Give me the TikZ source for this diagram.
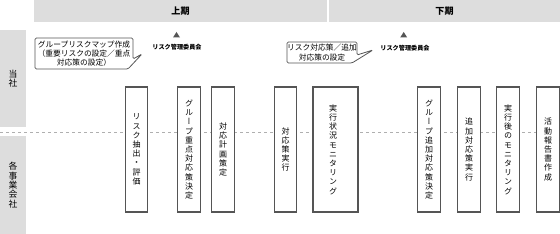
\documentclass[tikz,border=0pt]{standalone}
\usepackage{fontspec}
\setmainfont{Noto Sans CJK JP}
\newfontfamily\tatefont[RawFeature=+vert]{Noto Sans CJK JP}
\usepackage{xcolor}
\definecolor{hdrgray}{RGB}{221,221,221}
\definecolor{boxline}{RGB}{85,85,85}
\definecolor{dashgray}{RGB}{175,175,175}

\tikzset{
  tatebox/.style={draw=boxline, line width=0.8pt, fill=white, minimum width=17pt, minimum height=93.75pt, inner sep=0pt, align=center, font={\tatefont\fontsize{6}{6.9}\selectfont}},
  sidetext/.style={inner sep=0.75pt, align=center, font={\tatefont\fontsize{6.6}{7}\selectfont}},
  hdrtext/.style={inner sep=0.75pt, font={\bfseries\fontsize{6.8}{8}\selectfont}},
  calltext/.style={inner sep=0.75pt, align=center, font={\fontsize{5.8}{7}\selectfont}},
  iinkai/.style={inner sep=0.75pt, font={\bfseries\fontsize{4.6}{5.5}\selectfont}},
  callout/.style={draw=boxline, line width=0.6pt, fill=white, rounded corners=1pt}
}

\begin{document}
\begin{tikzpicture}[x=0.75pt,y=0.75pt,yscale=-1,xscale=1]
\useasboundingbox (0,0) rectangle (560,234);

%Header bars
\fill[hdrgray] (34,0) rectangle (327,22);
\fill[hdrgray] (329,0) rectangle (560,22);
% Text Node
\node[hdrtext] (kamiki) at (180.5,11) {上期};
% Text Node
\node[hdrtext] (shimoki) at (444.5,11) {下期};

%Left column
\fill[hdrgray] (0,30) rectangle (26,127);
\fill[hdrgray] (0,136) rectangle (26,234);
% Text Node
\node[sidetext] (tosha) at (13,78.5) {当\\社};
% Text Node
\node[sidetext] (kakusha) at (13,185) {各\\事\\業\\会\\社};

%Dashed divider
\draw[dashgray, line width=0.6pt, dash pattern=on 2.5pt off 2pt] (0,132) -- (560,132);

%Step boxes
\node[tatebox] (chushutsu) at (136.5,149.5) {リ\\ス\\ク\\抽\\出\\・\\評\\価};
\node[tatebox] (jutenkettei) at (189,149.5) {グ\\ル\\ー\\プ\\重\\点\\対\\応\\策\\決\\定};
\node[tatebox] (keikaku) at (223,149.5) {対\\応\\計\\画\\策\\定};
\node[tatebox] (jikko) at (285.5,149.5) {対\\応\\策\\実\\行};
\node[tatebox, minimum width=33.75pt] (monitor) at (335.5,149.5) {};
\node[tatebox, draw=none, fill=none] (monitortext) at (333,149.5) {実\\行\\状\\況\\モ\\ニ\\タ\\リ\\ン\\グ};
\node[tatebox] (tsuikakettei) at (429,149.5) {グ\\ル\\ー\\プ\\追\\加\\対\\応\\策\\決\\定};
\node[tatebox] (tsuikajikko) at (469,149.5) {追\\加\\対\\応\\策\\実\\行};
\node[tatebox] (jikkogo) at (508,149.5) {実\\行\\後\\の\\モ\\ニ\\タ\\リ\\ン\\グ};
\node[tatebox] (hokoku) at (548,149.5) {活\\動\\報\\告\\書\\作\\成};

%Callouts
\draw[callout] (35,38) -- (133,38) -- (133,59) -- (142,54) -- (128,69) -- (35,69) -- cycle;
% Text Node
\node[calltext] (mapsakusei) at (84,53.5) {グループリスクマップ作成\\（重要リスクの設定／重点\\対応策の設定）};
\draw[callout] (287,42) -- (357,42) -- (357,55) -- (373,50) -- (352,63) -- (287,63) -- cycle;
% Text Node
\node[calltext] (tsuikasettei) at (322,52.5) {リスク対応策／追加\\対応策の設定};

%Committee marks
\fill[boxline] (176.5,32) -- (180,37.5) -- (173,37.5) -- cycle;
\fill[boxline] (403.7,32) -- (407.2,37.5) -- (400.2,37.5) -- cycle;
% Text Node
\node[iinkai] (iinkai1) at (177,47.5) {リスク管理委員会};
% Text Node
\node[iinkai] (iinkai2) at (405,48) {リスク管理委員会};

\end{tikzpicture}
\end{document}
